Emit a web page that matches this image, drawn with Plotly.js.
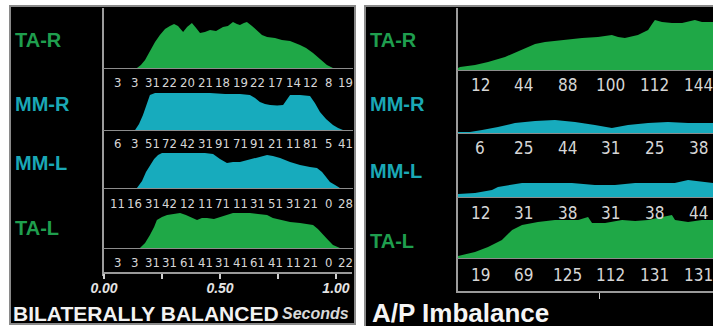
<!DOCTYPE html>
<html>
<head>
<meta charset="utf-8">
<script src="https://cdn.plot.ly/plotly-3.0.1.min.js"></script>
<style>html,body{margin:0;padding:0;background:#fff;}#chart{width:713px;height:326px;}</style>
</head>
<body>
<div id="chart"></div>
<script>
// ---------- DATA ----------
// Left panel (Bilaterally balanced), time in seconds, amplitude in arbitrary units
const leftTARt = [0.142,0.159,0.177,0.198,0.220,0.241,0.263,0.284,0.302,0.319,0.341,0.358,0.379,0.397,0.414,0.435,0.457,0.483,0.513,0.534,0.556,0.573,0.586,0.603,0.616,0.638,0.659,0.681,0.703,0.737,0.767,0.802,0.845,0.871,0.901,0.931,0.961,0.987];
const leftTARv = [0,6,16,34,52,66,78,84,88,84,72,82,90,80,70,72,76,74,82,84,92,88,86,90,92,84,76,66,62,60,56,54,46,40,30,18,6,0];

const leftMMRt = [0.134,0.151,0.168,0.185,0.198,0.220,0.263,0.328,0.392,0.457,0.522,0.586,0.629,0.651,0.672,0.694,0.716,0.746,0.772,0.789,0.802,0.845,0.888,0.909,0.931,0.957,0.987,1.009,1.030];
const leftMMRv = [0,12,30,52,70,74,74,74,73,74,72,72,70,64,56,52,50,49,50,60,70,70,68,54,36,22,10,4,0];

const leftMMLt = [0.142,0.164,0.181,0.198,0.216,0.233,0.250,0.306,0.371,0.435,0.470,0.500,0.530,0.556,0.586,0.621,0.659,0.681,0.703,0.728,0.759,0.802,0.845,0.888,0.918,0.940,0.957,0.974,0.996,1.017];
const leftMMLv = [0,14,32,46,58,66,70,70,70,70,68,58,50,52,52,56,60,64,66,64,60,52,46,42,40,32,22,12,6,0];

const leftTALt = [0.155,0.177,0.198,0.216,0.228,0.250,0.272,0.297,0.328,0.353,0.379,0.401,0.422,0.444,0.474,0.500,0.526,0.556,0.586,0.629,0.664,0.703,0.728,0.759,0.802,0.845,0.901,0.922,0.944,0.966,0.987,1.017];
const leftTALv = [0,10,26,42,56,62,66,68,70,66,60,56,60,60,58,62,66,70,70,70,68,66,60,56,52,50,46,38,26,16,6,0];

// Right panel (A/P imbalance)
const rightTARt = [0,0.007,0.060,0.106,0.166,0.226,0.272,0.307,0.367,0.438,0.494,0.543,0.565,0.589,0.635,0.671,0.685,0.695,0.720,0.755,0.791,0.819,0.836,0.861,0.900];
const rightTARv = [4,6,10,16,26,40,52,56,60,64,66,70,66,64,70,80,92,100,96,94,94,98,100,96,96];

const rightMMRt = [0,0.042,0.085,0.141,0.201,0.272,0.342,0.413,0.483,0.543,0.600,0.671,0.741,0.812,0.900];
const rightMMRv = [2,2,6,12,20,24,26,22,16,10,16,20,22,20,20];

const rightMMLt = [0,0.060,0.120,0.141,0.226,0.318,0.402,0.483,0.554,0.625,0.695,0.765,0.812,0.847,0.900];
const rightMMLv = [6,8,14,20,28,28,28,24,24,28,28,28,34,32,28];

const rightTALt = [0,0.060,0.106,0.155,0.191,0.226,0.282,0.342,0.424,0.459,0.473,0.519,0.579,0.625,0.671,0.706,0.755,0.766,0.812,0.861,0.900];
const rightTALv = [4,12,22,36,56,66,72,76,76,82,70,70,76,74,76,80,86,76,72,76,76];

// Count rows
const leftNumsTAR = ["3","3","31","22","20","21","18","19","22","17","14","12","8","19"];
const leftNumsMMR = ["6","3","51","72","42","31","91","71","91","21","11","81","5","41"];
const leftNumsMML = ["11","16","31","42","12","11","71","11","31","51","31","21","0","28"];
const leftNumsTAL = ["3","3","31","31","61","41","31","41","61","41","11","21","0","22"];
const rightNumsTAR = ["12","44","88","100","112","144"];
const rightNumsMMR = ["6","25","44","31","25","38"];
const rightNumsMML = ["12","31","38","31","38","44"];
const rightNumsTAL = ["19","69","125","112","131","131"];

const rowLabels = ["TA-R","MM-R","MM-L","TA-L"];
const leftTickVals = [0,0.25,0.5,0.75,1.0];
const leftTickText = ["0.00","","0.50","","1.00"];
const leftTitle = "BILATERALLY BALANCED";
const leftUnit = "Seconds";
const rightTitle = "A/P Imbalance";

// ---------- LAYOUT HELPERS ----------
const W = 713, H = 326;
const px = p => p / W;
const py = p => (H - p) / H;
const GREEN = "#1fa847", TEAL = "#17abbd";
const GREEN_T = "#1f9e4e", TEAL_T = "#1aa8b6";
const FONT = "Liberation Sans, Arial, sans-serif";
const NARROW = "Liberation Sans Narrow, DejaVu Sans Condensed, Arial Narrow, sans-serif";
const ROW_H = 50;

const leftBase = [68, 130, 188, 248];
const rightBase = [70, 133, 197, 258];
const leftNumY = [83, 143, 204, 262];
const rightNumY = [85, 148, 213, 275];
const leftLabelY = [40, 104, 163, 228];
const rightLabelY = [40, 104, 171, 241];
const rowColors = [GREEN, TEAL, TEAL, GREEN];
const rowTextColors = [GREEN_T, TEAL_T, TEAL_T, GREEN_T];

const series = [
  [leftTARt, leftTARv], [leftMMRt, leftMMRv], [leftMMLt, leftMMLv], [leftTALt, leftTALv],
  [rightTARt, rightTARv], [rightMMRt, rightMMRv], [rightMMLt, rightMMLv], [rightTALt, rightTALv]
];

const traces = series.map((s, i) => ({
  type: "scatter", mode: "lines", x: s[0], y: s[1],
  xaxis: i < 4 ? "x" : "x2", yaxis: i === 0 ? "y" : "y" + (i + 1),
  fill: "tozeroy", fillcolor: rowColors[i % 4],
  line: {width: 0, color: rowColors[i % 4], shape: "linear"},
  hoverinfo: "skip"
}));

const layout = {
  width: W, height: H, margin: {l: 0, r: 0, t: 0, b: 0},
  paper_bgcolor: "#ffffff", plot_bgcolor: "rgba(0,0,0,0)", showlegend: false,
  xaxis: {
    domain: [px(104), px(352)], range: [0, 1.069], anchor: "free", position: py(272),
    showgrid: false, zeroline: false, showline: true, linecolor: "#9a9a9a", linewidth: 1.5,
    ticks: "outside", ticklen: 5, tickwidth: 1.5, tickcolor: "#cfcfcf",
    tickvals: leftTickVals, ticktext: leftTickText, ticklabelstandoff: -2,
    tickfont: {family: FONT, size: 14, color: "#e4e4e4", weight: "bold", style: "italic"},
    fixedrange: true
  },
  xaxis2: {
    domain: [px(458), 1], range: [0, 0.9], anchor: "free", position: py(291),
    showgrid: false, zeroline: false, showline: true, linecolor: "#9a9a9a", linewidth: 1.5,
    ticks: "outside", ticklen: 6, tickwidth: 1.5, tickcolor: "#cfcfcf",
    tickvals: [0.5], ticktext: [""], fixedrange: true
  },
  shapes: [], annotations: []
};

for (let i = 0; i < 8; i++) {
  const b = i < 4 ? leftBase[i] : rightBase[i - 4];
  const key = i === 0 ? "yaxis" : "yaxis" + (i + 1);
  layout[key] = {domain: [py(b), py(b - ROW_H)], range: [0, 100], visible: false,
                 anchor: i < 4 ? "x" : "x2", fixedrange: true};
}

// panels
layout.shapes.push({type: "rect", xref: "paper", yref: "paper", x0: px(10), x1: px(355), y0: py(324), y1: py(6),
  fillcolor: "#000", line: {color: "#8a8a8a", width: 2}, layer: "below"});
layout.shapes.push({type: "rect", xref: "paper", yref: "paper", x0: px(365), x1: px(715), y0: py(328), y1: py(6),
  fillcolor: "#000", line: {color: "#8a8a8a", width: 2}, layer: "below"});
// vertical separators
layout.shapes.push({type: "line", xref: "paper", yref: "paper", x0: px(103), x1: px(103), y0: py(8), y1: py(276),
  line: {color: "#d0d0d0", width: 1.5}});
layout.shapes.push({type: "line", xref: "paper", yref: "paper", x0: px(457), x1: px(457), y0: py(8), y1: py(293),
  line: {color: "#d0d0d0", width: 1.5}});
// baselines
leftBase.forEach(b => layout.shapes.push({type: "line", xref: "paper", yref: "paper", x0: px(103), x1: px(353),
  y0: py(b + 0.5), y1: py(b + 0.5), line: {color: "#8c8c8c", width: 1}}));
rightBase.forEach(b => layout.shapes.push({type: "line", xref: "paper", yref: "paper", x0: px(457), x1: 1,
  y0: py(b + 0.5), y1: py(b + 0.5), line: {color: "#8c8c8c", width: 1}}));

function ann(text, x, y, size, color, opts) {
  layout.annotations.push(Object.assign({text: text, xref: "paper", yref: "paper", x: px(x), y: py(y),
    xanchor: "left", yanchor: "middle", showarrow: false, borderpad: 0,
    font: {family: FONT, size: size, color: color, weight: "bold"}}, opts || {}));
}

// row labels
rowLabels.forEach((t, i) => {
  ann(t, 14, leftLabelY[i], 20, rowTextColors[i]);
  ann(t, 369, rightLabelY[i], 20, rowTextColors[i]);
});

// count rows
const leftNums = [leftNumsTAR, leftNumsMMR, leftNumsMML, leftNumsTAL];
const rightNums = [rightNumsTAR, rightNumsMMR, rightNumsMML, rightNumsTAL];
leftNums.forEach((arr, r) => arr.forEach((t, i) => {
  ann(t, 117 + 17.6 * i, leftNumY[r], 13, "#d6d6d6",
      {xanchor: "center", font: {family: NARROW, size: 13, color: "#d6d6d6"}});
}));
rightNums.forEach((arr, r) => arr.forEach((t, i) => {
  ann(t, 480 + 43.6 * i, rightNumY[r], 17, "#d6d6d6",
      {xanchor: "center", font: {family: NARROW, size: 17, color: "#d6d6d6"}});
}));

// titles
ann(leftTitle, 12, 313, 21, "#f2f2f2");
ann(leftUnit, 281, 313, 16, "#d8d8d8", {font: {family: FONT, size: 16, color: "#d8d8d8", weight: "bold", style: "italic"}});
ann(rightTitle, 371, 313, 26, "#f5f5f5");

Plotly.newPlot("chart", traces, layout, {staticPlot: true, displayModeBar: false});
</script>
</body>
</html>
